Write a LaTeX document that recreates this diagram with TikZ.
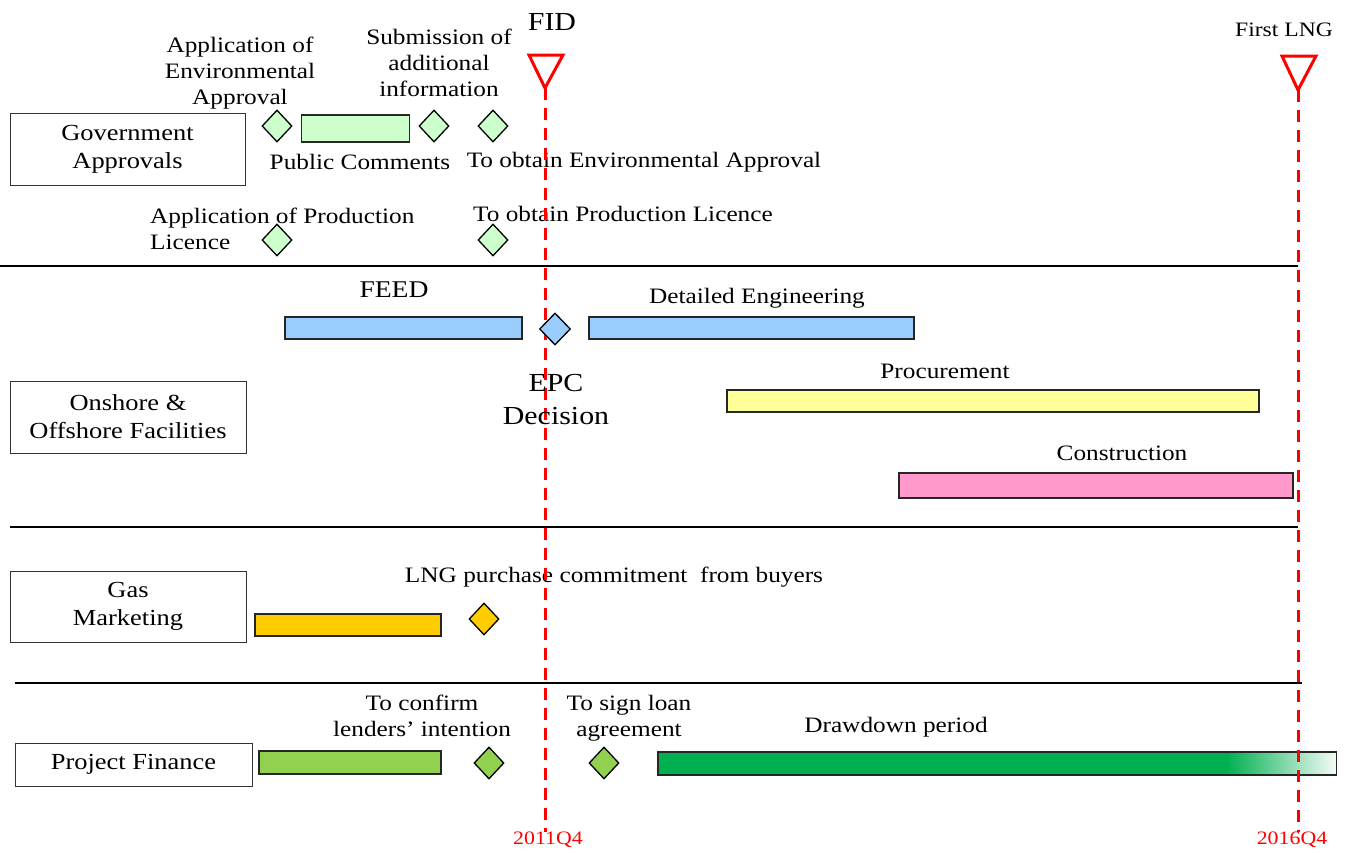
\documentclass[tikz,border=0pt]{standalone}
\usepackage{fontspec}
\setmainfont[FakeStretch=1.15]{Liberation Serif}
\usetikzlibrary{shapes.geometric}
\definecolor{lgreen}{HTML}{CCFFCC}
\definecolor{lblue}{HTML}{99CCFF}
\definecolor{lyellow}{HTML}{FFFF99}
\definecolor{lpink}{HTML}{FF99CC}
\definecolor{gold}{HTML}{FFCC00}
\definecolor{ygreen}{HTML}{92D050}
\definecolor{ddgreen}{HTML}{00B050}
\tikzset{
  lbl/.style={font=\fontsize{22}{26}\selectfont, align=center, inner sep=0pt},
  big/.style={font=\fontsize{26}{33}\selectfont, align=center, inner sep=0pt},
  red lbl/.style={font=\fontsize{19}{22}\selectfont, text=red, inner sep=0pt},
  catbox/.style={draw=black!80, line width=1pt, font=\fontsize{23}{28}\selectfont, align=center, inner sep=0pt, fill=white},
  bar/.style={draw=black!85, line width=1.4pt, inner sep=0pt, minimum height=22pt},
  ms/.style={diamond, draw=black, line width=1.3pt, inner sep=0pt, minimum width=30pt, minimum height=32pt},
  sep/.style={line width=1.6pt, black},
  dline/.style={red, line width=3pt, dash pattern=on 12pt off 8pt},
  tri/.style={red, line width=3pt, fill=white, line join=miter}
}
\begin{document}
\begin{tikzpicture}[x=1pt,y=-1pt]
\useasboundingbox (0,0) rectangle (1347,852);
% separators
\coordinate (s1a) at (0,266); \coordinate (s1b) at (1298,266);
\coordinate (s2a) at (10,527); \coordinate (s2b) at (1298,527);
\coordinate (s3a) at (15,683); \coordinate (s3b) at (1302,683);
\draw[sep] (s1a) -- (s1b);
\draw[sep] (s2a) -- (s2b);
\draw[sep] (s3a) -- (s3b);
% category boxes
\node[catbox, minimum width=235pt, minimum height=72pt] (gov) at (127.5,149) {Government\\Approvals};
\node[catbox, minimum width=236pt, minimum height=72pt] (ons) at (128,417) {Onshore \&\\Offshore Facilities};
\node[catbox, minimum width=236pt, minimum height=71pt] (gas) at (128,606.5) {Gas\\Marketing};
\node[catbox, minimum width=237pt, minimum height=43pt] (pfin) at (133.5,764.5) {Project Finance};
% Government approvals
\node[ms, fill=lgreen] (d1) at (277,126) {};
\node[bar, fill=lgreen, minimum width=108pt, minimum height=27pt] (pc) at (355.5,128.5) {};
\node[ms, fill=lgreen] (d2) at (434,126) {};
\node[ms, fill=lgreen] (d3) at (493,126) {};
\node[ms, fill=lgreen] (d4) at (277,240) {};
\node[ms, fill=lgreen] (d5) at (493,240) {};
\node[lbl] (t1) at (240,73) {Application of\\Environmental\\Approval};
\node[lbl] (t2) at (439,63) {Submission of\\additional\\information};
\node[lbl] (t3) at (360,162) {Public Comments};
\node[lbl] (t4) at (644,162) {To obtain Environmental Approval};
\node[lbl, align=left, anchor=west] (t5) at (150,229) {Application of Production\\Licence};
\node[lbl] (t6) at (623,214) {To obtain Production Licence};
% Onshore & offshore
\node[bar, fill=lblue, minimum width=237pt] (feed) at (403.5,328) {};
\node[bar, fill=lblue, minimum width=325pt] (de) at (751.5,328) {};
\node[bar, fill=lyellow, minimum width=532pt] (proc) at (993,401) {};
\node[bar, fill=lpink, minimum width=394pt, minimum height=25pt] (cons) at (1096,485.5) {};
\node[font=\fontsize{24}{30}\selectfont, inner sep=0pt] (t7) at (394,290) {FEED};
\node[lbl] (t8) at (757,298) {Detailed Engineering};
\node[lbl] (t9) at (945,371) {Procurement};
\node[lbl] (t10) at (1122,453) {Construction};
% Gas marketing
\node[bar, fill=gold, minimum width=186pt] (gm) at (348,625) {};
\node[ms, fill=gold] (d7) at (484,619) {};
\node[lbl] (t11) at (614,577) {LNG purchase commitment\ \ from buyers};
% Project finance
\node[bar, fill=ygreen, minimum width=182pt, minimum height=23pt] (pf) at (350,762.5) {};
\node[ms, fill=ygreen] (d8) at (489,763) {};
\node[ms, fill=ygreen] (d9) at (604,763) {};
\node[bar, fill=ddgreen, minimum width=678pt, minimum height=23pt] (dd) at (997,763.5) {};
\foreach \i in {0,...,54} {
  \pgfmathsetmacro{\pc}{100-94*(\i/54)}
  \fill[ddgreen!\pc!white] (1226+2*\i,752.7) rectangle (1228.4+2*\i,774.3);
}
\draw[draw=black!85, line width=1.4pt] (dd.north west) rectangle (dd.south east);
\node[lbl] (t12) at (422,716) {To confirm\\lenders' intention};
\node[lbl] (t13) at (629,718) {To sign loan\\agreement};
\node[lbl] (t14) at (896,727) {Drawdown period};
% milestone lines
\coordinate (f1) at (545,88); \coordinate (f2) at (545,832);
\coordinate (l1) at (1298,90); \coordinate (l2) at (1298,832);
\draw[dline] (f1) -- (f2);
\draw[dline] (l1) -- (l2);
% EPC diamond on top of line
\node[ms, fill=lblue, minimum width=31pt] (d6) at (555,329) {};
\node[big] (t15) at (556,400) {EPC\\Decision};
% triangles
\draw[tri] (529,55) -- (563,55) -- (f1) -- cycle;
\draw[tri] (1282,56) -- (1316,56) -- (l1) -- cycle;
\node[big] (fid) at (552,22) {FID};
\node[font=\fontsize{20.5}{24}\selectfont, inner sep=0pt] (flng) at (1284,30) {First LNG};
\node[red lbl] (y1) at (548,840) {2011Q4};
\node[red lbl] (y2) at (1292,840) {2016Q4};
\end{tikzpicture}
\end{document}
